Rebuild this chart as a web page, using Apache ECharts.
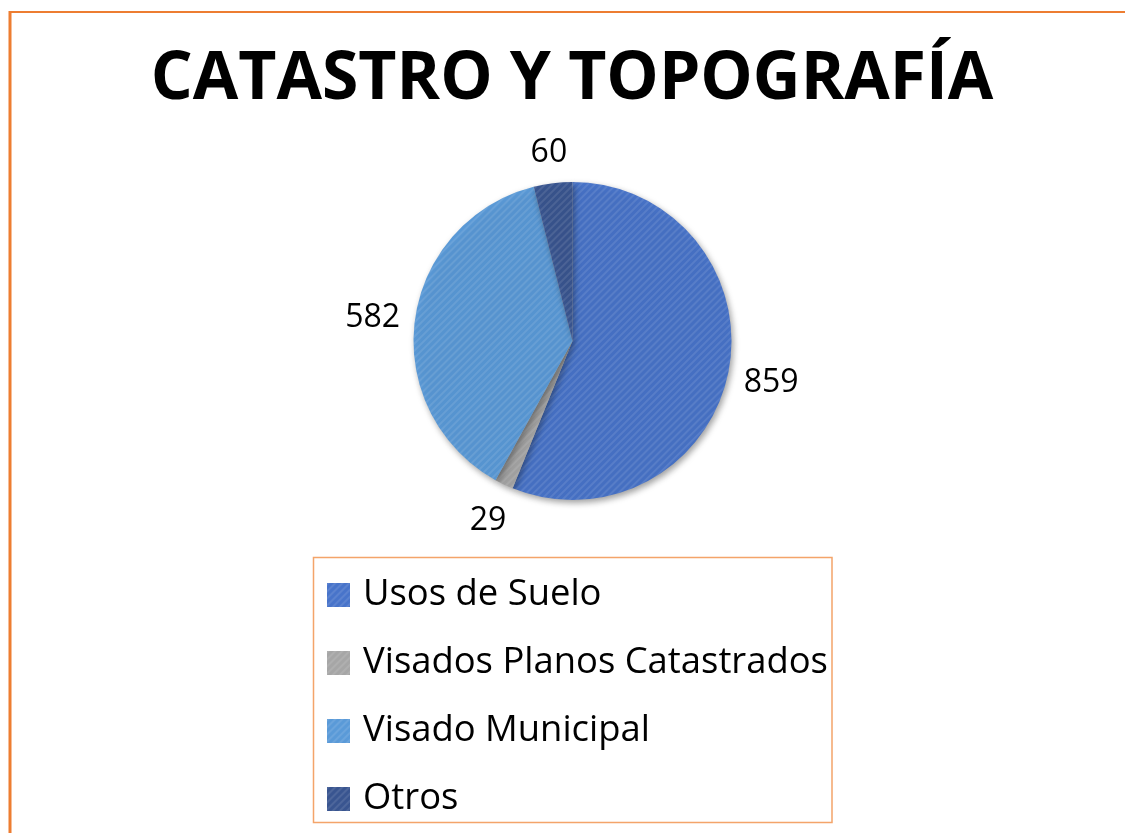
<!DOCTYPE html>
<html>
<head>
<meta charset="utf-8">
<script src="https://cdn.jsdelivr.net/npm/echarts@6/dist/echarts.min.js"></script>
<style>
  html, body { margin: 0; padding: 0; background: #ffffff; }
  #chart { width: 1125px; height: 833px; }
</style>
</head>
<body>
<div id="chart"></div>
<script>
// ---- data ----
const titleText = 'CATASTRO Y TOPOGRAFÍA';
const categories = ['Usos de Suelo', 'Visados Planos Catastrados', 'Visado Municipal', 'Otros'];
const values = [859, 29, 582, 60];
const colors = ['#4874CA', '#A6A6A6', '#5A9AD8', '#395590'];

// ---- layout constants ----
const CX = 572.5, CY = 341, R = 159;
const total = values.reduce((a, b) => a + b, 0);
const midAngles = [];
{
  let acc = 0;
  values.forEach(v => { midAngles.push((acc + v / 2) / total * Math.PI * 2); acc += v; });
}

const stripe = {
  symbol: 'rect',
  symbolSize: 1,
  dashArrayX: [1, 0],
  dashArrayY: [2, 3],
  rotation: -Math.PI / 4,
  color: 'rgba(255,255,255,0.10)'
};

const chart = echarts.init(document.getElementById('chart'), null, { renderer: 'canvas' });

const option = {
  backgroundColor: '#ffffff',
  animation: false,
  title: {
    text: titleText,
    left: 572,
    textAlign: 'center',
    top: 47,
    padding: 0,
    textStyle: {
      fontFamily: 'Open Sans',
      fontWeight: 'bold',
      fontSize: 66,
      color: '#000000'
    }
  },
  legend: {
    orient: 'vertical',
    left: 327,
    top: 577,
    height: 260,
    padding: 0,
    itemWidth: 23,
    itemHeight: 24,
    itemGap: 32,
    icon: 'rect',
    data: categories,
    textStyle: {
      fontFamily: 'Open Sans',
      fontSize: 36.4,
      lineHeight: 24,
      padding: [0, 0, 0, 8],
      color: '#000000'
    }
  },
  graphic: [
    { type: 'line', shape: { x1: 10, y1: 11, x2: 10, y2: 833 }, style: { stroke: '#ED7D31', lineWidth: 3 }, silent: true },
    { type: 'line', shape: { x1: 9, y1: 12, x2: 1125, y2: 12 }, style: { stroke: '#ED7D31', lineWidth: 2 }, silent: true },
    { type: 'rect', shape: { x: 313.5, y: 557.5, width: 518.5, height: 265 }, style: { fill: 'none', stroke: '#F4A46A', lineWidth: 1.5 }, silent: true, z: 0 }
  ],
  series: [{
    type: 'pie',
    center: [CX, CY],
    radius: R,
    startAngle: 90,
    clockwise: true,
    avoidLabelOverlap: false,
    itemStyle: {
      borderWidth: 0,
      shadowBlur: 6,
      shadowOffsetX: 2,
      shadowOffsetY: 3,
      shadowColor: 'rgba(0,0,0,0.35)',
      decal: stripe
    },
    label: {
      show: true,
      position: 'outside',
      formatter: '{c}',
      fontFamily: 'Open Sans',
      fontSize: 32,
      color: '#000000'
    },
    labelLine: { show: false },
    labelLayout: function (p) {
      const a = midAngles[p.dataIndex];
      const s = Math.sin(a), c = Math.cos(a);
      const w = p.labelRect.width;
      const d = R + 13 + Math.abs(s) * w / 2 + Math.abs(c) * 18;
      return { x: CX + s * d, y: CY - c * d + 3, align: 'center', verticalAlign: 'middle' };
    },
    data: categories.map((name, i) => ({ name: name, value: values[i], itemStyle: { color: colors[i] } }))
  }]
};

chart.setOption(option);
</script>
</body>
</html>
